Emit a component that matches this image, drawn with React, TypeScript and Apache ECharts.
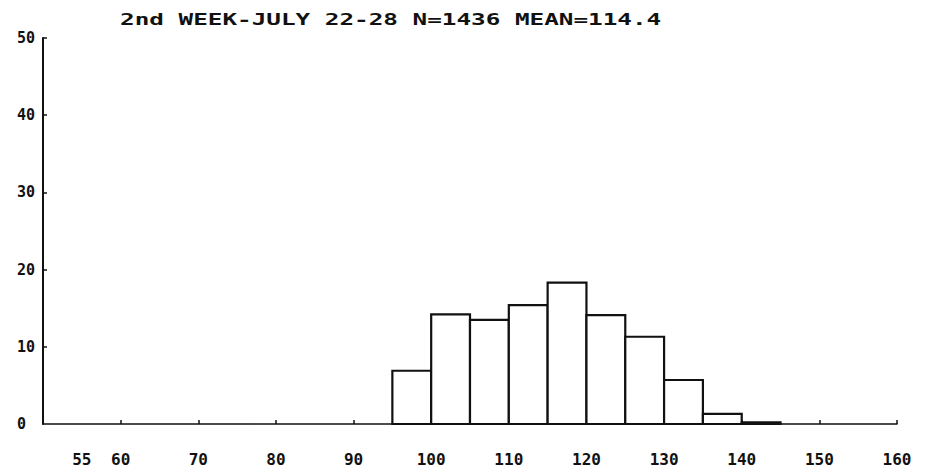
import React, { useEffect, useRef } from "react";
import * as echarts from "echarts";

const TITLE = "2nd WEEK-JULY 22-28 N=1436 MEAN=114.4";
const binStarts = [50, 55, 60, 65, 70, 75, 80, 85, 90, 95, 100, 105, 110, 115, 120, 125, 130, 135, 140, 145, 150, 155];
const percents = [0, 0, 0, 0, 0, 0, 0, 0, 0, 6.9, 14.2, 13.5, 15.4, 18.3, 14.1, 11.3, 5.7, 1.3, 0.2, 0, 0, 0];
const BIN_WIDTH = 5;
const xLabelValues = [55, 60, 70, 80, 90, 100, 110, 120, 130, 140, 150, 160];
const xTickValues = [60, 70, 80, 90, 100, 110, 120, 130, 140, 150, 160];
const yTickValues = [10, 20, 30, 40, 50];
const yLabelValues = [0, 10, 20, 30, 40, 50];

const FONT = "DejaVu Sans Mono";

export default function App() {
  const ref = useRef<HTMLDivElement>(null);
  useEffect(() => {
    if (!ref.current) return;
    const chart = echarts.init(ref.current, null, { renderer: "svg" });
    const data = binStarts.map((s, i) => [s, s + BIN_WIDTH, percents[i]]);
    chart.setOption({
      animation: false,
      backgroundColor: "#ffffff",
      grid: { left: 43, right: 39, top: 38, bottom: 46, containLabel: false },
      graphic: [
        {
          type: "text",
          left: 120,
          top: 12,
          scaleX: 1.62,
          style: {
            text: TITLE,
            font: `bold 15px "${FONT}"`,
            fill: "#111",
          },
        },
      ],
      xAxis: {
        type: "value",
        min: 50,
        max: 160,
        interval: 5,
        splitLine: { show: false },
        axisLine: { show: true, onZero: false, lineStyle: { color: "#111", width: 1.6 } },
        axisTick: {
          show: true,
          inside: true,
          length: 4,
          customValues: xTickValues,
          lineStyle: { color: "#111", width: 1.5 },
        },
        axisLabel: {
          customValues: xLabelValues,
          margin: 27,
          fontFamily: FONT,
          fontWeight: "bold",
          fontSize: 16,
          color: "#111",
        },
      },
      yAxis: {
        type: "value",
        min: 0,
        max: 50,
        interval: 10,
        splitLine: { show: false },
        axisLine: { show: true, lineStyle: { color: "#111", width: 2 } },
        axisTick: {
          show: true,
          inside: true,
          length: 4,
          customValues: yTickValues,
          lineStyle: { color: "#111", width: 1.5 },
        },
        axisLabel: {
          customValues: yLabelValues,
          align: "left",
          margin: 26,
          fontFamily: FONT,
          fontWeight: "bold",
          fontSize: 15,
          color: "#111",
        },
      },
      series: [
        {
          type: "custom",
          data,
          encode: { x: [0, 1], y: 2 },
          renderItem: (params: any, api: any) => {
            const v = api.value(2);
            if (!v) return null;
            const p0 = api.coord([api.value(0), 0]);
            const p1 = api.coord([api.value(1), v]);
            return {
              type: "rect",
              shape: { x: p0[0], y: p1[1], width: p1[0] - p0[0], height: p0[1] - p1[1] },
              style: { fill: "#ffffff", stroke: "#111", lineWidth: 2.2 },
            };
          },
        },
      ],
    });
    return () => chart.dispose();
  }, []);
  return (
    <div
      ref={ref}
      style={{ position: "fixed", left: 0, top: 0, width: 936, height: 470, background: "#fff" }}
    />
  );
}
